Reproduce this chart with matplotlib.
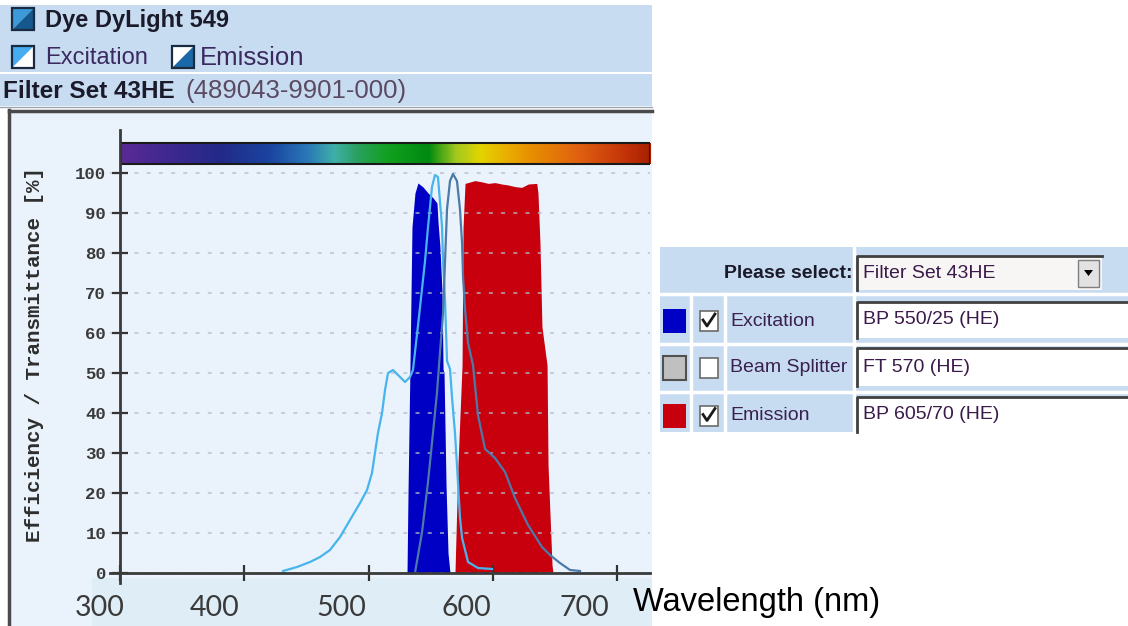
import numpy as np
import matplotlib
matplotlib.use("Agg")
import matplotlib.pyplot as plt
from matplotlib.colors import LinearSegmentedColormap
from matplotlib.patches import Rectangle, Polygon

plt.rcParams["font.family"] = ["Liberation Sans", "DejaVu Sans"]

# excitation filter BP 550/25 (wavelength nm, transmittance %)
ex_filter_nm = [531.0, 531.8, 533.4, 535.0, 537.4, 539.8, 543.9, 547.9, 551.9, 555.1,
                555.9, 557.5, 559.2, 560.0, 560.8, 562.4, 564.0, 565.6]
ex_filter_val = [0, 20, 52, 86.5, 95, 97.5, 96.5, 95, 93.8, 92.5,
                 88, 81.5, 70, 51, 50, 22, 5, 0]

# emission filter BP 605/70
em_filter_nm = [569.6, 572.0, 575.3, 576.1, 577.7, 585.7, 591.1, 596.4, 601.8, 607.2,
                612.5, 617.9, 623.3, 628.6, 635.4, 636.4, 638.0, 639.6, 643.7, 644.5,
                647.7, 648.5]
em_filter_val = [0, 27, 52, 86.5, 97.4, 98.1, 97.8, 97.4, 97.6, 97.25,
                 97, 96.6, 96.4, 97.25, 97.4, 95, 82.5, 61.5, 52, 27,
                 2, 0]

# dye DyLight 549 excitation spectrum
ex_dye_nm = [431.2, 442.5, 452.9, 461.0, 469.0, 477.1, 485.1, 493.2, 498.8, 502.8,
             505.2, 507.6, 510.9, 513.3, 515.7, 519.7, 525.4, 529.4, 533.4, 535.8,
             540.6, 545.5, 547.9, 551.1, 553.5, 555.9, 557.5, 559.2, 560.0, 561.6,
             563.2, 565.6, 567.2, 569.6, 571.2, 573.6, 575.3, 580.1, 588.1, 599.4]
ex_dye_val = [0.5, 1.5, 2.75, 4, 5.75, 9, 13.25, 17.5, 20.75, 25,
              30, 35, 40, 45.75, 50, 50.75, 49, 47.75, 49, 50.75,
              64, 78, 86.5, 96.5, 99.5, 99, 93, 86.5, 78, 68,
              53, 51, 44, 35, 27, 14, 8.75, 2.75, 1.25, 1]

# dye DyLight 549 emission spectrum
em_dye_nm = [537.4, 543.1, 547.9, 551.9, 555.1, 557.5, 560.0, 561.6, 563.2, 565.6,
             568.0, 571.2, 573.6, 575.3, 576.1, 577.7, 580.1, 584.1, 588.1, 593.8,
             601.8, 609.9, 617.9, 628.4, 639.6, 646.1, 654.1, 662.2, 670.2]
em_dye_val = [0, 10.25, 22.75, 35, 45, 55, 65, 78, 91, 98,
              99.75, 98, 91, 82.5, 74, 66, 57.5, 52, 39.5, 31,
              28.75, 25.25, 18.75, 12, 6.5, 4.5, 2.5, 0.75, 0.5]

y_ticks = list(range(0, 101, 10))
x_ticks = [300, 400, 500, 600, 700]
x_labels = ["300", "400", "500", "600", "700"]

# rainbow bar colour stops
spec_nm = [300, 340, 380, 420, 450, 472, 490, 515, 548, 570, 590, 608, 630, 670, 710, 727]
spec_col = ["#5a2a95", "#3d2890", "#222a88", "#1a45a0", "#2a78b8", "#3fb0a8", "#2aa060",
            "#12a020", "#008a10", "#a0c820", "#e4d400", "#e8b400", "#e89000", "#e06010",
            "#c03008", "#a82000"]

rows = ["Excitation", "Beam Splitter", "Emission"]
row_values = ["BP 550/25 (HE)", "FT 570 (HE)", "BP 605/70 (HE)"]
row_colors = ["#0000c4", "#c0c0c0", "#c8000e"]
row_checked = [True, False, True]

fig = plt.figure(figsize=(11.28, 6.26), dpi=100)

# pixel canvas for the page furniture
bg = fig.add_axes([0, 0, 1, 1])
bg.set_xlim(0, 1128)
bg.set_ylim(626, 0)
bg.axis("off")


def box(x0, y0, x1, y1, fc, ec="none", lw=0, z=1):
    bg.add_patch(Rectangle((x0, y0), x1 - x0, y1 - y0, facecolor=fc,
                           edgecolor=ec, linewidth=lw, zorder=z))


def icon(x, y, upper, lower, s=22):
    bg.add_patch(Polygon([(x, y), (x + s, y), (x, y + s)], closed=True,
                         facecolor=upper, edgecolor="none", zorder=2))
    bg.add_patch(Polygon([(x + s, y), (x + s, y + s), (x, y + s)], closed=True,
                         facecolor=lower, edgecolor="none", zorder=2))
    box(x, y, x + s, y + s, "none", ec="#1a2a40", lw=1.6, z=3)


# header
hdr = "#c8dcf1"
box(0, 5, 652, 72, hdr)
box(0, 74, 652, 106, hdr)
bg.plot([0, 652], [107, 107], color="#9aa4b0", lw=1)
icon(12, 8, "#3c9ad8", "#14588e")
icon(12, 46, "#46aef0", "white")
icon(172, 46, "white", "#1a68a8")
bg.text(45, 20, "Dye DyLight 549", fontsize=17, fontweight="bold", color="#1a1a2a",
        va="center")
bg.text(45, 58, "Excitation", fontsize=17, color="#3a2a60", va="center")
bg.text(200, 58, "Emission", fontsize=18.5, color="#3a2a60", va="center")
bg.text(3, 91, "Filter Set 43HE", fontsize=17.5, fontweight="bold", color="#1a1a2a",
        va="center")
bg.text(185, 91, "(489043-9901-000)", fontsize=18.5, color="#5a4a62", va="center")

# chart panel
box(9, 110, 652, 626, "#eaf3fb")
box(92, 578, 652, 626, "#deedf6")
bg.plot([9, 9], [110, 626], color="#4a4a4a", lw=2.5)
bg.plot([9, 652], [111, 111], color="#4a4a4a", lw=2.5)
bg.text(35, 355, "Efficiency / Transmittance [%]", rotation=90, ha="center",
        va="center", fontfamily="Liberation Mono", fontweight="bold", fontsize=15,
        color="#2e2e2e")

# overlaid axis labels
label_centers = [100, 215, 341, 466, 584]
for lab, xc in zip(x_labels, label_centers):
    bg.text(xc, 608, lab, ha="center", va="center", fontfamily="Lato",
            fontsize=20.5, color="#3a3a3a")
bg.text(633, 603, "Wavelength (nm)", ha="left", va="center", fontsize=23.5,
        color="black")

# right side selection table
box(660, 247, 1128, 432, hdr)
for yy in [294, 344, 392]:
    bg.plot([660, 1128], [yy, yy], color="white", lw=2.5, zorder=2)
for xx in [691, 725]:
    bg.plot([xx, xx], [294, 432], color="white", lw=2.5, zorder=2)
bg.plot([854, 854], [247, 432], color="white", lw=2.5, zorder=2)
bg.text(852, 273, "Please select:", ha="right", va="center", fontsize=14,
        fontweight="bold", color="#1a1a2a")
box(857, 256, 1102, 290, "#f8f6f4", z=2)
bg.plot([857, 857, 1102], [290, 256, 256], color="#404040", lw=2, zorder=3)
bg.text(863, 273, "Filter Set 43HE", va="center", fontsize=14, color="#3a1a4a")
box(1078, 260, 1099, 287, "#e2e2e2", ec="#808080", lw=1, z=3)
bg.add_patch(Polygon([(1084, 270), (1093, 270), (1088.5, 276)], closed=True,
                     facecolor="black", zorder=4))

row_tops = [302, 348, 397]
row_bottoms = [338, 386, 432]
for name, val, col, chk, y0, y1 in zip(rows, row_values, row_colors, row_checked,
                                        row_tops, row_bottoms):
    yc = (y0 + y1) / 2 + 1
    box(663, yc - 12, 686, yc + 12, col, ec="#505050" if col == "#c0c0c0" else "none",
        lw=1.5, z=3)
    box(700, yc - 10, 718, yc + 10, "white", ec="#6a6a6a", lw=1.2, z=3)
    if chk:
        bg.plot([703, 707, 715], [yc - 1, yc + 5, yc - 7], color="#1a1a1a", lw=2,
                zorder=4)
    bg.text(730, yc, name, va="center", fontsize=14, color="#3a2050")
    box(857, y0, 1128, y1, "white", z=2)
    bg.plot([857, 857, 1128], [y1, y0, y0], color="#404040", lw=2, zorder=3)
    bg.text(863, (y0 + y1) / 2, val, va="center", fontsize=14, color="#3a1a4a")

# main chart
x0, x1 = 291.95, 726.56
ax = fig.add_axes([110 / 1128, (626 - 583) / 626, 540 / 1128, (583 - 130) / 626])
ax.patch.set_visible(False)

# spines first: moving them resets the ticks
for side in ["top", "right"]:
    ax.spines[side].set_visible(False)
ax.spines["left"].set_position(("data", 300))
ax.spines["bottom"].set_position(("data", 0))
for side in ["left", "bottom"]:
    ax.spines[side].set_linewidth(2)
    ax.spines[side].set_color("#3a3a3a")
    ax.spines[side].set_zorder(4)

ax.fill_between(ex_filter_nm, ex_filter_val, color="#0000c4", lw=0, zorder=1)
ax.fill_between(em_filter_nm, em_filter_val, color="#c8000e", lw=0, zorder=1)
ax.plot(ex_dye_nm, ex_dye_val, color="#48b4ee", lw=1.6, zorder=3)
ax.plot(em_dye_nm, em_dye_val, color="#4c7aa8", lw=1.6, zorder=3)

pos = [(v - spec_nm[0]) / (spec_nm[-1] - spec_nm[0]) for v in spec_nm]
cmap = LinearSegmentedColormap.from_list("spec", list(zip(pos, spec_col)))
grad = np.linspace(spec_nm[0], spec_nm[-1], 800)[None, :]
ax.imshow(grad, extent=[300.8, x1, 102.25, 107.5], aspect="auto", cmap=cmap,
          vmin=spec_nm[0], vmax=spec_nm[-1], interpolation="bilinear", zorder=2)
ax.add_patch(Rectangle((300.8, 102.25), x1 - 300.8, 5.25, fill=False,
                       edgecolor="#1a1a1a", lw=1.5, zorder=3))

ax.set_xlim(x0, x1)
ax.set_ylim(-2.5, 110.75)
ax.set_xticks(x_ticks)
ax.set_yticks(y_ticks)
ax.tick_params(axis="y", direction="inout", length=12, width=1.6, color="#333333",
               labelsize=12.5, pad=4, labelcolor="#3a3a3a")
ax.tick_params(axis="x", direction="inout", length=12, width=1.6, color="#333333",
               labelbottom=False)
ax.set_yticklabels([str(v) for v in y_ticks], fontfamily="Liberation Mono",
                   fontweight="bold")
ax.set_axisbelow(False)
ax.yaxis.grid(True, color="#b4bdca", lw=1.1, linestyle=(0, (2.6, 5.4)), alpha=0.9)

fig.savefig("out.png", dpi=100)
